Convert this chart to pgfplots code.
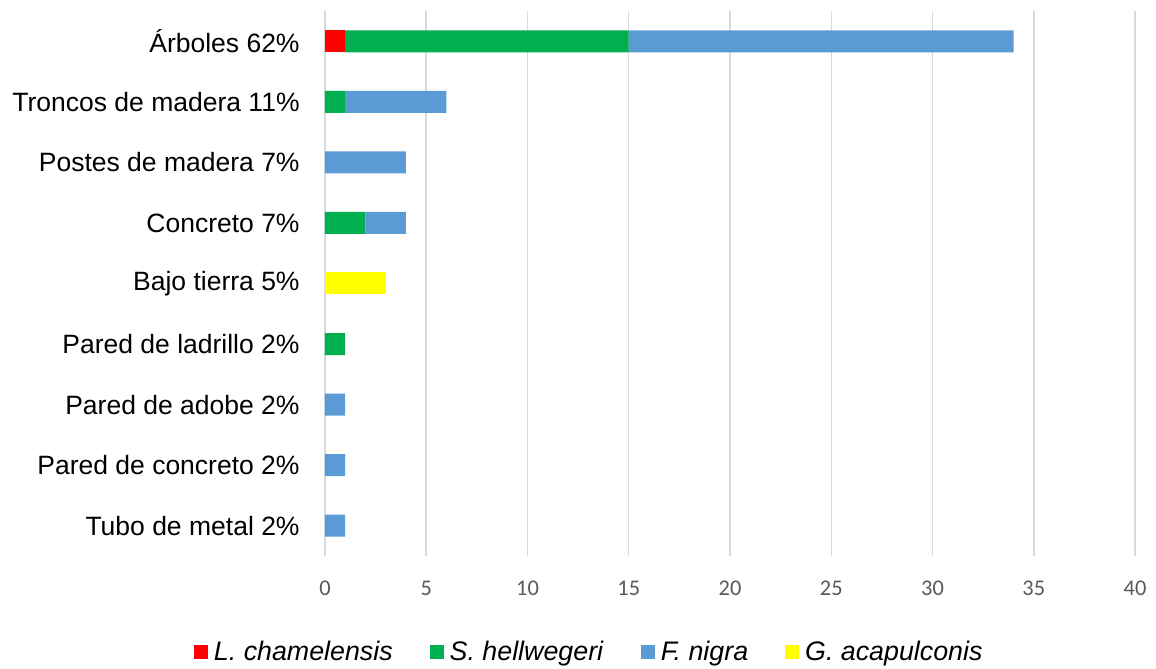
\documentclass[border=0pt]{standalone}
\usepackage{pgfplots}
\pgfplotsset{compat=1.18}
\usepackage{fontspec}
\setmainfont{Liberation Sans}
\newfontfamily\carlito{Carlito}
\definecolor{cL}{HTML}{FF0000}
\definecolor{cS}{HTML}{00B050}
\definecolor{cF}{HTML}{5B9BD5}
\definecolor{cG}{HTML}{FFFF00}
\definecolor{gridc}{HTML}{D9D9D9}
\definecolor{tickc}{HTML}{595959}
\begin{document}
\begin{tikzpicture}
\begin{axis}[
  name=ax,
  xbar stacked,
  width=405pt, height=272.5pt, scale only axis,
  xmin=0, xmax=40, ymin=-0.5, ymax=8.5,
  xtick={0,5,...,40},
  ytick={0,...,8},
  yticklabels={Tubo de metal 2\%, Pared de concreto 2\%, Pared de adobe 2\%, Pared de ladrillo 2\%, Bajo tierra 5\%, Concreto 7\%, Postes de madera 7\%, Troncos de madera 11\%, Árboles 62\%},
  bar width=11pt,
  axis line style={draw=none},
  major tick length=0pt,
  xmajorgrids,
  major grid style={draw=gridc, line width=0.75pt},
  /pgf/number format/assume math mode=true,
  xticklabel style={font=\carlito\fontsize{11.2}{13}\selectfont, text=tickc, anchor=center, yshift=-16pt},
  yticklabel style={font=\fontsize{13.25}{15.9}\selectfont, text=black, anchor=east, inner sep=0pt, xshift=-12.5pt},
  legend style={at={(axis description cs:0,0)}, anchor=west, xshift=-65.5pt, yshift=-48pt,
    draw=none, fill=none, inner sep=0pt, outer sep=0pt,
    font=\fontsize{13.4}{16}\selectfont,
    nodes={inner sep=0pt},
    /tikz/every even column/.append style={column sep=18.5pt},
    /tikz/every odd column/.append style={column sep=3pt}},
  legend columns=4,
  legend image code/.code={\fill[#1] (0pt,-3.5pt) rectangle (7pt,3.5pt);},
]
\addplot[fill=cL, draw=none] coordinates {(1,8) (0,7) (0,6) (0,5) (0,4) (0,3) (0,2) (0,1) (0,0)};
\addplot[fill=cS, draw=none] coordinates {(14,8) (1,7) (0,6) (2,5) (0,4) (1,3) (0,2) (0,1) (0,0)};
\addplot[fill=cF, draw=none] coordinates {(19,8) (5,7) (4,6) (2,5) (0,4) (0,3) (1,2) (1,1) (1,0)};
\addplot[fill=cG, draw=none] coordinates {(0,8) (0,7) (0,6) (0,5) (3,4) (0,3) (0,2) (0,1) (0,0)};
\legend{\textit{L. chamelensis}, \textit{S. hellwegeri}, \textit{F. nigra}, \textit{G. acapulconis}}
\end{axis}
\pgfresetboundingbox
\path ([xshift=-162.5pt,yshift=-56.5pt]ax.south west) rectangle ([xshift=10.5pt,yshift=5.5pt]ax.north east);
\end{tikzpicture}
\end{document}
